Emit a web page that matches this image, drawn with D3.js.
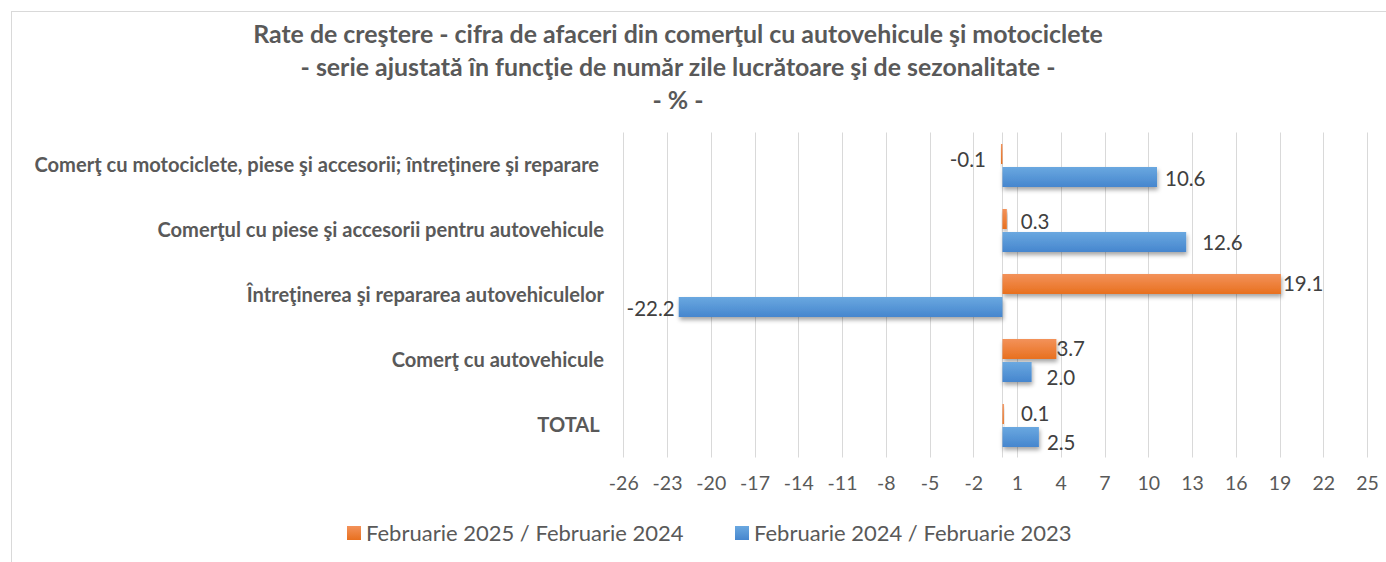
<!DOCTYPE html>
<html>
<head>
<meta charset="utf-8">
<script src="https://cdn.jsdelivr.net/npm/d3@7"></script>
<style>
  body { margin: 0; background: #fff; }
  svg text { font-family: Lato, "Open Sans", sans-serif; white-space: pre; }
</style>
</head>
<body>
<div class="canvas"></div>
<script>
// ---- data (top row first, as in the picture)
const categories = [
  "Comerţ cu motociclete, piese şi accesorii; întreţinere şi reparare ",
  "Comerţul cu piese şi accesorii pentru autovehicule",
  "Întreţinerea şi repararea autovehiculelor",
  "Comerţ cu autovehicule",
  "TOTAL "
];
const seriesNames = ["Februarie 2025 / Februarie 2024", "Februarie 2024 / Februarie 2023"];
const feb2025 = [-0.1, 0.3, 19.1, 3.7, 0.1];
const feb2024 = [10.6, 12.6, -22.2, 2.0, 2.5];
const tickValues = d3.range(-26, 26, 3);   // -26 ... 25
const titleLines = [
  "Rate de creştere - cifra de afaceri din comerţul cu autovehicule şi motociclete",
  "- serie ajustată în funcţie de număr zile lucrătoare şi de sezonalitate -",
  "- % -"
];

// label nudges, like hand-moved labels in the original sheet [dx, dy]
const labelShift2025 = [[-11, 6], [10, 3], [-2, 0], [-4, 0], [13, 0]];
const labelShift2024 = [[4, 2], [12, 1], [0, 2], [11, 6], [4, 6]];

const width = 1386, height = 562;
const plot = {left: 623.3, right: 1367, top: 132.5, bottom: 457.5};

const svg = d3.select('.canvas').append('svg')
  .attr('width', width)
  .attr('height', height);

const defs = svg.append('defs');
function grad(id, top, bottom) {
  const g = defs.append('linearGradient').attr('id', id)
    .attr('x1', 0).attr('y1', 0).attr('x2', 0).attr('y2', 1);
  g.append('stop').attr('offset', '0%').attr('stop-color', top);
  g.append('stop').attr('offset', '100%').attr('stop-color', bottom);
}
grad('gOrange', '#F3925A', '#E8701F');
grad('gBlue', '#6AA8E0', '#4686CE');
defs.append('filter').attr('id', 'shadow')
  .attr('x', '-20%').attr('y', '-40%').attr('width', '140%').attr('height', '190%')
  .append('feDropShadow')
    .attr('dx', 1).attr('dy', 3).attr('stdDeviation', 2)
    .attr('flood-color', '#000').attr('flood-opacity', 0.35);

// chart border (cropped on right and bottom)
svg.append('rect')
  .attr('x', 11.5).attr('y', 11.5)
  .attr('width', width + 20).attr('height', height + 20)
  .attr('fill', 'none').attr('stroke', '#D9D9D9');

// title
svg.append('g').selectAll('text')
  .data(titleLines)
  .join('text')
    .attr('x', 678)
    .attr('y', (d, i) => 34 + i * 33)
    .attr('dy', '0.35em')
    .attr('text-anchor', 'middle')
    .attr('font-size', 24.9)
    .attr('font-weight', 'bold')
    .attr('fill', '#595959')
    .text(d => d);

// scales
const x = d3.scaleLinear()
  .domain([-26, 25])
  .range([plot.left, plot.right]);

const y = d3.scaleBand()
  .domain(categories)
  .range([plot.top, plot.bottom]);

const inner = d3.scaleBand()
  .domain([0, 1])
  .range([11.5, 54.5])
  .paddingInner(3 / 23);

// gridlines
svg.append('g')
  .selectAll('line')
  .data(tickValues)
  .join('line')
    .attr('x1', d => Math.round(x(d)) + 0.5)
    .attr('x2', d => Math.round(x(d)) + 0.5)
    .attr('y1', plot.top)
    .attr('y2', plot.bottom)
    .attr('stroke', '#D9D9D9');

// vertical category axis at zero
svg.append('line')
  .attr('x1', Math.round(x(0)) + 0.5).attr('x2', Math.round(x(0)) + 0.5)
  .attr('y1', plot.top).attr('y2', plot.bottom)
  .attr('stroke', '#D9D9D9');

// tick labels through d3 axis
const xAxis = svg.append('g')
  .attr('transform', `translate(0,${plot.bottom + 8})`)
  .call(d3.axisBottom(x).tickValues(tickValues).tickSize(0).tickPadding(11).tickFormat(d => String(d)));
xAxis.select('.domain').remove();
xAxis.selectAll('text')
  .attr('font-family', 'Lato, sans-serif')
  .attr('font-size', 19.5)
  .attr('fill', '#595959');

// category labels
svg.append('g').selectAll('text')
  .data(categories)
  .join('text')
    .attr('x', 604)
    .attr('y', d => y(d) + y.bandwidth() / 2)
    .attr('dy', '0.35em')
    .attr('text-anchor', 'end')
    .attr('font-size', 20.1)
    .attr('font-weight', 'bold')
    .attr('fill', '#595959')
    .text(d => d);

// bars
const series = [
  {values: feb2025, fill: 'url(#gOrange)', shift: labelShift2025},
  {values: feb2024, fill: 'url(#gBlue)', shift: labelShift2024}
];

series.forEach((s, si) => {
  const rows = s.values.map((v, i) => ({cat: categories[i], v: v, shift: s.shift[i]}));
  const g = svg.append('g');

  g.selectAll('rect')
    .data(rows)
    .join('rect')
      .attr('x', d => x(Math.min(0, d.v)))
      .attr('y', d => y(d.cat) + inner(si))
      .attr('width', d => Math.abs(x(d.v) - x(0)))
      .attr('height', inner.bandwidth())
      .attr('fill', s.fill)
      .attr('filter', 'url(#shadow)');

  g.selectAll('text')
    .data(rows)
    .join('text')
      .attr('x', d => (d.v < 0 ? x(d.v) - 4 : x(d.v) + 4) + d.shift[0])
      .attr('y', d => y(d.cat) + inner(si) + inner.bandwidth() / 2 + d.shift[1])
      .attr('dy', '0.35em')
      .attr('text-anchor', d => d.v < 0 ? 'end' : 'start')
      .attr('font-size', 20.5)
      .attr('fill', '#404040')
      .text(d => d.v.toFixed(1));
});

// legend
const legend = svg.append('g');
const legendX = [347, 735];
seriesNames.forEach((name, i) => {
  legend.append('rect')
    .attr('x', legendX[i]).attr('y', 526)
    .attr('width', 14).attr('height', 14)
    .attr('fill', series[i].fill);
  legend.append('text')
    .attr('x', legendX[i] + 19).attr('y', 533)
    .attr('dy', '0.35em')
    .attr('font-size', 22)
    .attr('fill', '#595959')
    .text(name);
});
</script>
</body>
</html>
